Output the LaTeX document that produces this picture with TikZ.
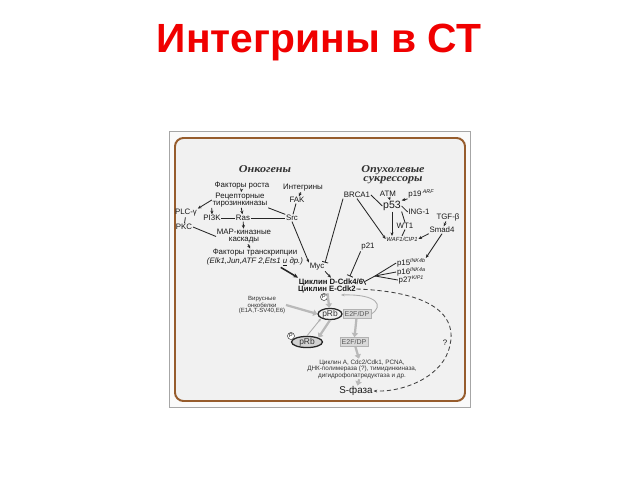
\documentclass[tikz,border=0pt]{standalone}
\usepackage{fontspec}
\setmainfont{Liberation Sans}
\newfontfamily\headfont[FakeStretch=1.15]{Liberation Serif}
\usetikzlibrary{arrows.meta,shapes.geometric,positioning}
\definecolor{framebrown}{RGB}{150,92,45}
\definecolor{titlered}{RGB}{240,0,0}

\begin{document}
\begin{tikzpicture}[x=0.025cm, y=-0.025cm,
    lbl/.style={font=\fontsize{5.6}{4.9}\selectfont, inner sep=0.4pt, text=black!90, align=center},
    tiny/.style={font=\fontsize{4.5}{4.6}\selectfont, inner sep=0.4pt, text=black!80, align=center},
    head/.style={font=\fontsize{7.5}{6.4}\selectfont\headfont\bfseries\itshape, inner sep=0pt, text=black!80, align=center},
    cyc/.style={font=\fontsize{5.5}{5}\selectfont\bfseries, inner sep=0.3pt, text=black!90},
    arr/.style={-{Stealth[length=2.6pt,width=2.2pt]}, black!85, line width=0.6pt},
    ln/.style={black!85, line width=0.6pt},
    inh/.style={-{Bar[width=4.5pt]}, black!85, line width=0.6pt},
    garr/.style={-{Triangle[length=3pt,width=4.5pt]}, gray!55, line width=1.6pt},
    pcirc/.style={circle, draw=black!70, fill=white, inner sep=0pt, minimum size=5pt, font=\fontsize{3.8}{4}\selectfont},
    rb/.style={ellipse, draw=black!85, line width=0.9pt, inner sep=0pt, font=\fontsize{6}{6}\selectfont, text=black!80},
    e2f/.style={rectangle, draw=gray!60, fill=gray!30, inner sep=0pt, minimum width=20pt, minimum height=6.4pt, font=\fontsize{5}{5}\selectfont, text=black!65}]

    \fill[white] (0,0) rectangle (640,480);
    \useasboundingbox (0,0) rectangle (640,480);

    \node[font=\fontsize{29}{31}\selectfont\bfseries, text=titlered, anchor=base] (title) at (319,52.5) {Интегрины в СТ};

    \draw[gray!70, fill=gray!4, line width=0.6pt] (169,131) rectangle (470,407);
    \draw[framebrown, fill=gray!11, line width=1.4pt, rounded corners=6pt] (175,138) rectangle (465,401);

    % oncogenes
    \node[head] (onc) at (265,169) {Онкогены};
    \node[lbl] (fr) at (242,186) {Факторы роста};
    \node[lbl] (rtk) at (240,200) {Рецепторные\\тирозинкиназы};
    \node[lbl] (plc) at (186,213) {PLC-γ};
    \node[lbl] (pkc) at (184,227) {PKC};
    \node[lbl] (pi3k) at (212,218) {PI3K};
    \node[lbl] (ras) at (243,218) {Ras};
    \node[lbl] (integ) at (303,188) {Интегрины};
    \node[lbl] (fak) at (297,200) {FAK};
    \node[lbl] (src) at (292,218) {Src};
    \node[lbl] (map) at (244,236.5) {MAP-киназные\\каскады};
    \node[lbl] (tf) at (255,258) {Факторы транскрипции\\\textit{(Elk1,Jun,ATF 2,Ets1 \underline{и} др.)}};
    \node[lbl] (myc) at (317,267) {Myc};

    % suppressors
    \node[head] (sup) at (393,174.5) {Опухолевые\\сукрессоры};
    \node[lbl] (brca) at (357,195) {BRCA1};
    \node[lbl] (atm) at (388,194) {ATM};
    \node[lbl] (p19) at (421,194) {p19\,\raisebox{2pt}{\fontsize{3.8}{4}\selectfont\itshape ARF}};
    \node[lbl, font=\fontsize{7.5}{7.5}\selectfont] (p53) at (392,206) {p53};
    \node[lbl] (ing) at (419,212) {ING-1};
    \node[lbl] (tgf) at (448,217) {TGF-β};
    \node[lbl] (wt1) at (405,226) {WT1};
    \node[lbl] (smad) at (442,230) {Smad4};
    \node[lbl, font=\fontsize{4.2}{4}\selectfont\itshape] (waf) at (402,239) {WAF1/CIP1};
    \node[lbl] (p21) at (368,247) {p21};
    \node[lbl] (p15) at (411,263) {p15\raisebox{2pt}{\fontsize{3.8}{4}\selectfont\itshape INK4b}};
    \node[lbl] (p16) at (411,272) {p16\raisebox{2pt}{\fontsize{3.8}{4}\selectfont\itshape INK4a}};
    \node[lbl] (p27) at (411,280) {p27\raisebox{2pt}{\fontsize{3.8}{4}\selectfont\itshape KIP1}};

    % cell cycle
    \node[cyc] (cycd) at (331,282) {Циклин D-Cdk4/6};
    \node[cyc] (cyce) at (327,289) {Циклин E-Cdk2};
    \node[pcirc] (p1) at (324,297) {P};
    \node[rb, fill=gray!12, minimum width=17pt, minimum height=6.6pt] (prb1) at (330,314) {pRb};
    \node[e2f, anchor=west] (e2f1) at (prb1.east) {E2F/DP};
    \node[tiny, font=\fontsize{4.3}{3.6}\selectfont] (vir) at (262,305) {Вирусные\\онкобелки\\(E1A,T-SV40,E6)};
    \node[rb, fill=gray!35, minimum width=22pt, minimum height=6pt] (prb2) at (307,342) {pRb};
    \node[pcirc] (p2) at (291,336) {P};
    \node[e2f] (e2f2) at (354,342) {E2F/DP};
    \node[tiny] (genes) at (362,369) {Циклин A, Cdc2/Cdk1, PCNA,\\ДНК-полимераза (?), тимидинкиназа,\\дигидрофолатредуктаза и др.};
    \node[lbl, font=\fontsize{7}{7}\selectfont] (sph) at (356,391) {S-фаза};
    \node[lbl] (q) at (445,343) {?};
    \coordinate (conv) at (375,276);
    \coordinate (fb) at (341,295);

    \draw[arr] (fr) -- (rtk);
    \draw[arr] (rtk) -- (ras);
    \draw[arr] (rtk.west) -- (plc.north east);
    \draw[arr] (rtk.south west) -- (pi3k.north);
    \draw[ln] (rtk.south east) -- (src.north west);
    \draw[ln] (pi3k) -- (ras);
    \draw[ln] (ras) -- (src);
    \draw[ln] (plc) -- (pkc);
    \draw[ln] (pkc.east) -- (map.west);
    \draw[arr] (ras) -- (map);
    \draw[arr] (map) -- (tf);
    \draw[arr] (integ) -- (fak);
    \draw[ln] (fak) -- (src);
    \draw[arr] (src.south) -- (myc.north west);
    \draw[inh] (brca.south west) -- (myc.north east);
    \draw[-{Stealth[length=3.5pt,width=3pt]}, black!85, line width=1.1pt] (tf.-20) -- (cycd.north west);
    \draw[arr] (myc.south east) -- (cycd.north);

    \draw[arr] (atm) -- (p53);
    \draw[arr] (p19.south west) -- (p53.north east);
    \draw[ln] (brca.east) -- (p53.west);
    \draw[ln] (p53.east) -- (ing.west);
    \draw[ln] (p53.south east) -- (wt1.north);
    \draw[arr] (p53.south) -- (p53.south |- waf.north);
    \draw[ln] (wt1.south) -- (waf.north);
    \draw[arr] (tgf) -- (smad);
    \draw[arr] (smad.south west) -- (waf.east);
    \draw[arr] (smad.south) -- (p15.north east);
    \draw[arr] (brca.south) -- (waf.west);
    \draw[inh] (p21.south west) -- ([xshift=-10pt,yshift=1pt]cycd.north east);
    \foreach \n in {p15,p16,p27}
        \draw[ln] (\n.west) -- (conv);
    \draw[inh] (conv) -- (cycd.east);

    \draw[garr] (cyce) -- (prb1);
    \draw[garr] (vir.east) -- (prb1.west);
    \draw[garr] (prb1.south) -- (prb2.north east);
    \draw[garr] (e2f1) -- (e2f2);
    \draw[-{Stealth[length=2.6pt]}, gray!65, line width=0.6pt] (prb2.north) -- (prb1.south west);
    \draw[-{Stealth[length=2.6pt]}, gray!65, line width=0.6pt] (e2f1.east) .. controls (384,306) and (378,294) .. (fb);
    \draw[garr] (e2f2) -- (genes);
    \draw[garr] (genes) -- (sph);
    \draw[-{Stealth[length=2.6pt]}, black!75, densely dashed, line width=0.6pt] (cyce.east) .. controls (440,292) and (456,320) .. (450,345) .. controls (444,376) and (405,392) .. (sph.east);
\end{tikzpicture}
\end{document}
